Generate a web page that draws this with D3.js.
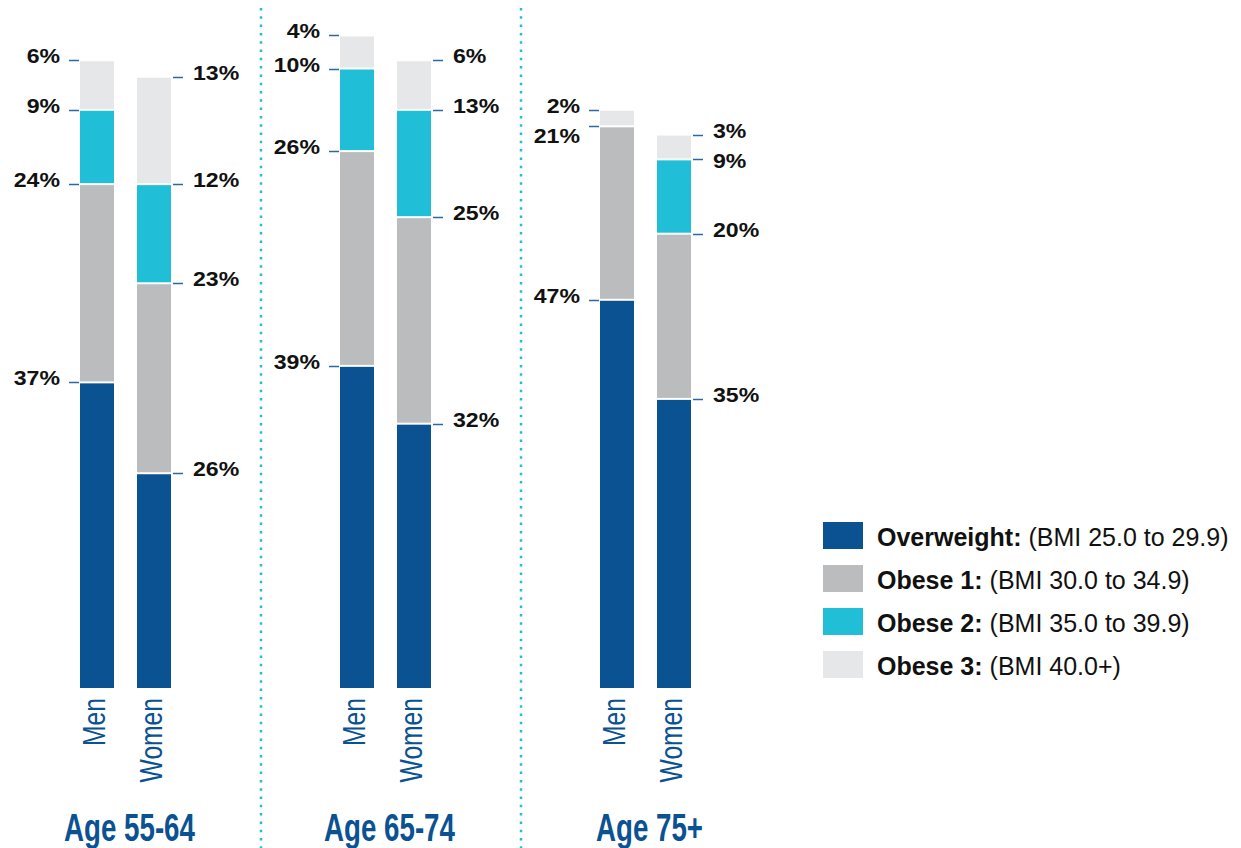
<!DOCTYPE html>
<html>
<head>
<meta charset="utf-8">
<script src="https://cdn.jsdelivr.net/npm/d3@7"></script>
<style>
  body { margin: 0; background: #fff; }
  svg { display: block; font-family: "Liberation Sans", Arial, sans-serif; }
</style>
</head>
<body>
<svg id="chart" width="1241" height="848"></svg>
<script>
// groups and bars
var groups = ["Age 55-64", "Age 65-74", "Age 75+"];
var sexes = ["Men", "Women"];

// series values (percent), one value per group
var overweightMen   = [37, 39, 47];
var overweightWomen = [26, 32, 35];
var obese1Men       = [24, 26, 21];
var obese1Women     = [23, 25, 20];
var obese2Men       = [9, 10, 0];
var obese2Women     = [12, 13, 9];
var obese3Men       = [6, 4, 2];
var obese3Women     = [13, 6, 3];

var seriesNames = ["Overweight:", "Obese 1:", "Obese 2:", "Obese 3:"];
var seriesNotes = [" (BMI 25.0 to 29.9)", " (BMI 30.0 to 34.9)", " (BMI 35.0 to 39.9)", " (BMI 40.0+)"];
var seriesColors = ["#0a5291", "#bbbcbe", "#21bfd7", "#e6e7e8"];

var BLUE = "#0a5291";
var BASE_Y = 688;

var svg = d3.select("#chart");

var valuesBy = {
    Men:   [overweightMen, obese1Men, obese2Men, obese3Men],
    Women: [overweightWomen, obese1Women, obese2Women, obese3Women]
};

var x0 = d3.scaleBand().domain(groups).range([60, 840]);
var x1 = d3.scaleBand().domain(sexes).range([20, 111]).paddingInner(0.4035);
var y = d3.scaleLinear().domain([0, 100]).range([BASE_Y, BASE_Y - 826]);

// dotted separators
groups.slice(0, 2).forEach(function(g) {
    svg.append("line")
        .attr("x1", x0(g) + 201).attr("x2", x0(g) + 201)
        .attr("y1", 8).attr("y2", 848)
        .style("stroke", "#21bfd7")
        .style("stroke-width", 2.5)
        .style("stroke-dasharray", "2.5 5.8");
});

// build stacked segments
var bars = [];
groups.forEach(function(g, gi) {
    sexes.forEach(function(s) {
        var acc = 0;
        var segs = [];
        valuesBy[s].forEach(function(arr, si) {
            var v = arr[gi];
            segs.push({ series: si, v: v, y0: acc, y1: acc + v });
            acc += v;
        });
        bars.push({ group: g, sex: s, segs: segs, x: x0(g) + x1(s) });
    });
});

var barG = svg.selectAll("g.bar").data(bars).enter().append("g").attr("class", "bar");

barG.selectAll("rect")
    .data(function(d) { return d.segs.filter(function(s) { return s.v > 0; }).map(function(s) { s.x = d.x; return s; }); })
    .enter().append("rect")
    .attr("x", function(d) { return d.x; })
    .attr("width", x1.bandwidth())
    .attr("y", function(d) { return y(d.y1) + 1; })
    .attr("height", function(d) { return y(d.y0) - y(d.y1) - (d.y0 === 0 ? 1 : 2); })
    .style("fill", function(d) { return seriesColors[d.series]; });

// value labels with tick marks
bars.forEach(function(b) {
    var left = b.sex === "Men";
    var segs = b.segs.filter(function(s) { return s.v > 0; }).slice().reverse();
    var prev = -100;
    segs.forEach(function(s) {
        var ty = Math.round(y(s.y1)) + 0.5;
        var tx1 = left ? b.x - 11 : b.x + x1.bandwidth() + 2;
        svg.append("line")
            .attr("x1", tx1).attr("x2", tx1 + 10)
            .attr("y1", ty).attr("y2", ty)
            .style("stroke", "#2a67a3")
            .style("stroke-width", 1.5);
        var by = Math.max(ty + 2, prev + 30);
        prev = by;
        var lx = left ? b.x - 20 : b.x + x1.bandwidth() + 22;
        svg.append("text")
            .attr("transform", "translate(" + lx + "," + by + ") scale(1.1,1)")
            .attr("text-anchor", left ? "end" : "start")
            .style("font-size", "21px")
            .style("font-weight", "bold")
            .style("fill", "#111")
            .text(s.v + "%");
    });

    // rotated sex label
    var cx = b.x + x1.bandwidth() / 2 + 8;
    svg.append("text")
        .attr("transform", "translate(" + cx + ",698) rotate(-90) scale(0.77,1)")
        .attr("text-anchor", "end")
        .style("font-size", "32px")
        .style("fill", BLUE)
        .text(b.sex);
});

// group titles
groups.forEach(function(g) {
    var cx = x0(g) + 20 + 91 / 2 + 4;
    svg.append("text")
        .attr("transform", "translate(" + cx + ",841) scale(0.71,1)")
        .attr("text-anchor", "middle")
        .style("font-size", "39px")
        .style("font-weight", "bold")
        .style("fill", BLUE)
        .text(g);
});

// legend
var legend = svg.append("g").attr("transform", "translate(823,522)");
seriesNames.forEach(function(n, i) {
    var row = legend.append("g").attr("transform", "translate(0," + (i * 43) + ")");
    row.append("rect")
        .attr("width", 40).attr("height", 27)
        .style("fill", seriesColors[i]);
    var t = row.append("text")
        .attr("x", 54).attr("y", 24)
        .style("font-size", "25px")
        .style("fill", "#111");
    t.append("tspan").style("font-weight", "bold").text(n);
    t.append("tspan").text(seriesNotes[i]);
});
</script>
</body>
</html>
